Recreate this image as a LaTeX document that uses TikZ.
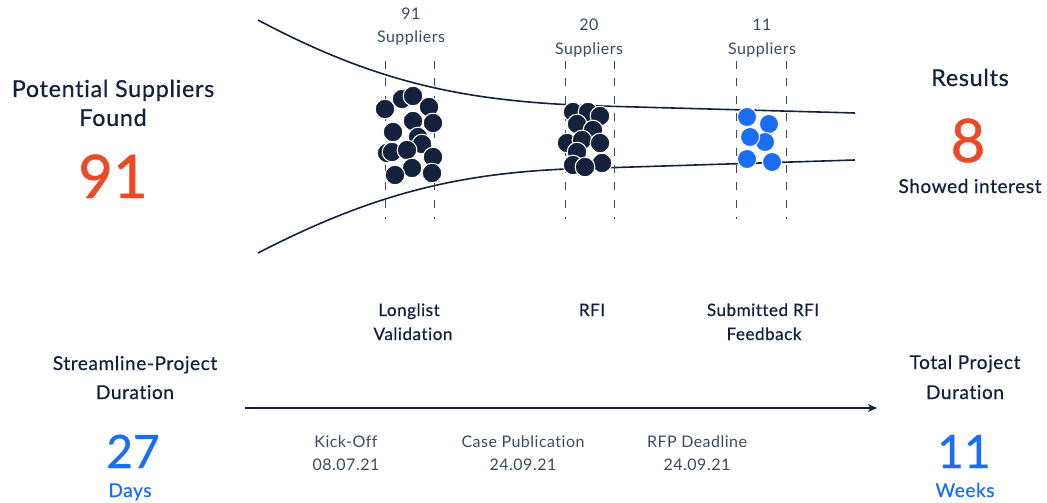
\documentclass[tikz,border=0pt]{standalone}
\usepackage{fontspec}
\setmainfont{Lato}[LetterSpace=3,Ligatures=NoCommon]
\newfontfamily\semib{Lato}[FakeBold=0.6,LetterSpace=3,Ligatures=NoCommon]
\newfontfamily\bignum{Lato}[FakeBold=0.8]
\usetikzlibrary{arrows.meta}
\definecolor{navy}{HTML}{14213D}
\definecolor{orng}{HTML}{EC4A26}
\definecolor{blu}{HTML}{1B6EF3}
\definecolor{gtxt}{HTML}{3D4A5C}
\tikzset{
  head/.style={anchor=base,inner sep=0pt,text=navy,font=\semib\fontsize{17.5}{20}\selectfont},
  sub/.style={anchor=base,inner sep=0pt,text=navy,font=\semib\fontsize{14.3}{16}\selectfont},
  stage/.style={anchor=base,inner sep=0pt,text=navy,font=\semib\fontsize{12.8}{14}\selectfont},
  small/.style={anchor=base,inner sep=0pt,text=gtxt,font=\fontsize{12}{13}\selectfont},
  bigorange/.style={anchor=base,inner sep=0pt,text=orng,font=\bignum\fontsize{45}{50}\selectfont},
  bigblue/.style={anchor=base,inner sep=0pt,text=blu,font=\bignum\fontsize{34.5}{40}\selectfont},
  subblue/.style={anchor=base,inner sep=0pt,text=blu,font=\semib\fontsize{14.3}{16}\selectfont},
  funnel/.style={navy,line width=1.2pt},
  guide/.style={gtxt,line width=0.6pt,dash pattern=on 6 off 7},
  darkdot/.style={fill=navy,draw=white,line width=0.8pt},
  bluedot/.style={fill=blu,draw=white,line width=0.8pt},
  timeline/.style={navy,line width=1pt,-{Stealth[length=7pt,width=6pt]}}
}
\begin{document}
\begin{tikzpicture}[x=0.75pt,y=-0.75pt]
\useasboundingbox (0,0) rectangle (1047,503);
% funnel
\draw[funnel] (258,20) .. controls (380,85) and (470,102) .. (600,106) -- (855,113);
\draw[funnel] (258,253) .. controls (380,190) and (470,170) .. (600,168) -- (855,160);
% guides
\foreach \x in {385,434,565,614,736,786}
  \draw[guide] (\x,61) -- (\x,219);
% clusters
\foreach \p in {(387,153),(385,109),(402,99),(413,96),(429,107),(433,123),(413,121),(393,132),(418,137),(422,144),(392,152),(407,150),(433,157),(412,168),(395,175),(432,173)}
  \draw[darkdot] \p circle (9.8);
\foreach \p in {(573,112),(588,112),(600,116),(577,124),(593,130),(567,143),(582,140),(600,143),(577,152),(573,165),(602,163),(585,167)}
  \draw[darkdot] \p circle (9.8);
\foreach \p in {(747,117),(769,124),(765,142),(750,137),(747,159),(772,162)}
  \draw[bluedot] \p circle (9.6);
% top labels
\node[small] (n91) at (411,20) {91};
\node[small] (s91) at (411,43) {Suppliers};
\node[small] (n20) at (589,31) {20};
\node[small] (s20) at (589,55) {Suppliers};
\node[small] (n11) at (762,31) {11};
\node[small] (s11) at (762,55) {Suppliers};
% left/right header
\node[head] (pot) at (113,97) {Potential Suppliers};
\node[head] (found) at (113,126) {Found};
\node[bigorange] (v91) at (113,198) {91};
\node[head] (res) at (970,86) {Results};
\node[bigorange] (v8) at (968,162) {8};
\node[sub] (show) at (970,193) {Showed interest};
% stages
\node[stage] (ll1) at (409,316) {Longlist};
\node[stage] (ll2) at (413,340) {Validation};
\node[stage] (rfi) at (592,316) {RFI};
\node[stage] (sr1) at (763,316) {Submitted RFI};
\node[stage] (sr2) at (764,340) {Feedback};
% bottom
\node[sub] (spd1) at (135,370) {Streamline-Project};
\node[sub] (spd2) at (135,399) {Duration};
\node[bigblue] (v27) at (133,468) {27};
\node[subblue] (days) at (130,497) {Days};
\node[sub] (tpd1) at (965,369) {Total Project};
\node[sub] (tpd2) at (965,399) {Duration};
\node[bigblue] (v11) at (964,468) {11};
\node[subblue] (weeks) at (965,497) {Weeks};
% timeline
\coordinate (tlA) at (245,408);
\coordinate (tlB) at (877,408);
\draw[timeline] (tlA) -- (tlB);
\node[small] (ko1) at (346,447) {Kick-Off};
\node[small] (ko2) at (346,470) {08.07.21};
\node[small] (cp1) at (523,447) {Case Publication};
\node[small] (cp2) at (523,470) {24.09.21};
\node[small] (rd1) at (697,447) {RFP Deadline};
\node[small] (rd2) at (697,470) {24.09.21};
\end{tikzpicture}
\end{document}
